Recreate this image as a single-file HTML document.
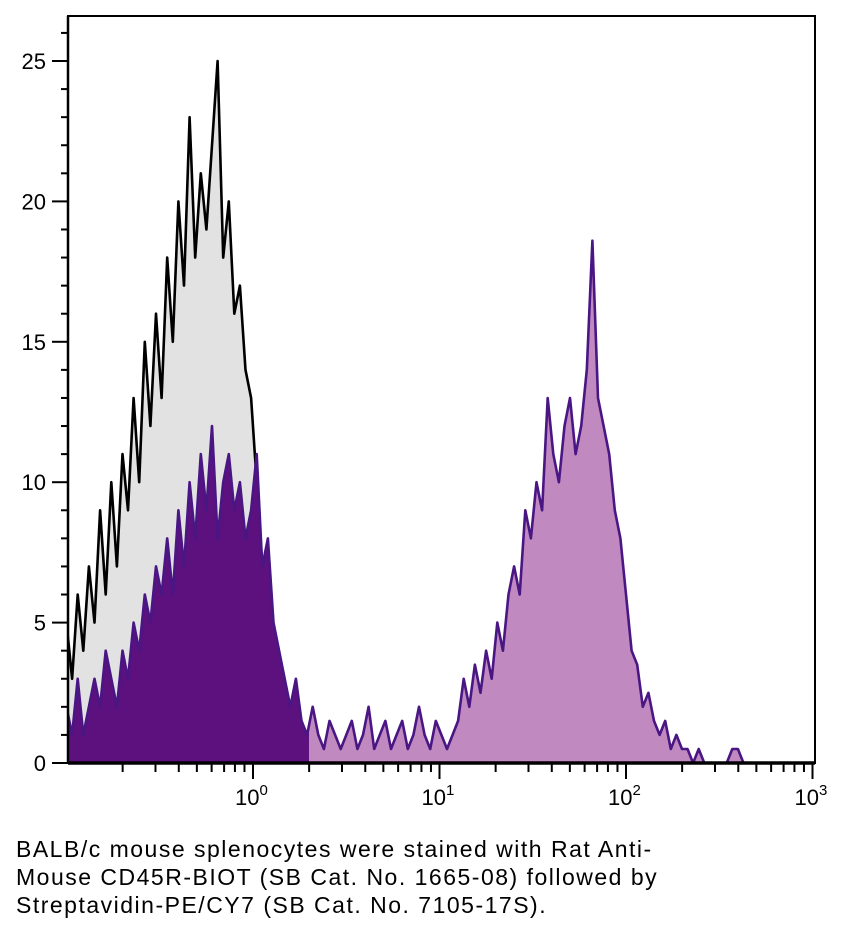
<!DOCTYPE html>
<html><head><meta charset="utf-8"><style>
html,body{margin:0;padding:0;background:#fff;width:848px;height:934px;overflow:hidden}
svg text{font-family:"Liberation Sans",sans-serif}
.cap{position:absolute;left:16px;top:835px;font:23px/28px "Liberation Sans",sans-serif;letter-spacing:1.5px;color:#000}
</style></head><body>
<svg id="chart" width="848" height="934" style="position:absolute;left:0;top:0"></svg>
<div class="cap">BALB/c mouse splenocytes were stained with Rat Anti-<br>Mouse CD45R-BIOT (SB Cat. No. 1665-08) followed by<br>Streptavidin-PE/CY7 (SB Cat. No. 7105-17S).</div>
<script>
const binStart = -1, binStep = 0.03;
const isotypeCounts = [5,3,6,4,7,5,9,6,10,7,11,9,13,10,15,12,16,13,18,15,20,17,23,18,21,19,22,25,18,20,16,17,14,13,10,7,4,1,0];
const stainedCounts = [2,1,3,1,2,3,2,4,3,2, 4,3,5,4,6,5,7,6,8,6, 9,7,10,8,11,9,12,8,10,11, 9,10,8,9,11,7,8,5,4,3,
 2,3,1.5,1,2,1,0.5,1.5,1,0.5, 1,1.5,0.5,1,2,0.5,1,1.5,0.5,1, 1.5,0.5,1,2,1,0.5,1.5,1,0.5,1,
 1.5,3,2,3.5,2.5,4,3,5,4,6, 7,6,9,8,10,9,13,11,10,12, 13,11,12,14,18.6,13,12,11,9,8,
 6,4,3.5,2,2.5,1.5,1,1.5,0.5,1, 0.5,0.5,0,0.5,0,0,0,0,0,0.5, 0.5,0,0,0];
const yTicks = [0,5,10,15,20,25];
const xDecades = [0,1,2,3];

const NS='http://www.w3.org/2000/svg', svg=document.getElementById('chart');
const L=68,R=815,T=16,B=763;
const X=l=>253+(l-0)*186.5;
const Y=v=>B-v*28.08;
function mk(t,a,p){const e=document.createElementNS(NS,t);for(const k in a)e.setAttribute(k,a[k]);(p||svg).appendChild(e);return e;}
function series(arr){return arr.map((v,i)=>[X(binStart+i*binStep),Y(v)]);}
function poly(pts){return pts.map(p=>p[0].toFixed(1)+','+p[1].toFixed(1)).join(' ');}
const clip=mk('clipPath',{id:'pc'});mk('rect',{x:L,y:T,width:R-L,height:B-T},clip);
const g=mk('g',{'clip-path':'url(#pc)'});
const ip=series(isotypeCounts);
const f1=mk('polygon',{points:poly([[ip[0][0],B],...ip,[ip[ip.length-1][0],B]]),fill:'#e2e2e2'},g);

const l1=mk('polyline',{points:poly(ip),fill:'none',stroke:'#000','stroke-width':2.6,'stroke-linejoin':'round'},g);

const sp=series(stainedCounts);
const split=X(0.3);
const cd=mk('clipPath',{id:'cd'});mk('rect',{x:0,y:0,width:split,height:934},cd);
const cl=mk('clipPath',{id:'cl'});mk('rect',{x:split,y:0,width:848,height:934},cl);
const fp=poly([[sp[0][0],B],...sp,[sp[sp.length-1][0],B]]);
const f2=mk('polygon',{points:fp,fill:'#5c117f','clip-path':'url(#cd)'},g);

const f3=mk('polygon',{points:fp,fill:'#c08ac0','clip-path':'url(#cl)'},g);

const l2=mk('polyline',{points:poly(sp),fill:'none',stroke:'#4a1684','stroke-width':2.6,'stroke-linejoin':'round'},g);

const fr=mk('rect',{x:L,y:T,width:R-L,height:B-T,fill:'none',stroke:'#000','stroke-width':2});

mk('line',{x1:L,y1:B,x2:R,y2:B,stroke:'#000','stroke-width':3.5});
mk('line',{x1:L,y1:T,x2:L,y2:B,stroke:'#000','stroke-width':2.5});
for(let v=0;v<=26;v++){const maj=v%5===0;mk('line',{x1:maj?52:61,x2:L,y1:Y(v),y2:Y(v),stroke:'#000','stroke-width':2});}
yTicks.forEach(v=>{const t=mk('text',{x:46,y:Y(v)+8,'text-anchor':'end','font-size':22});t.textContent=v;
});
for(let d=-1;d<3;d++){for(let m=1;m<=10;m++){const l=d+Math.log10(m);if(X(l)<L)continue;const maj=m===10;
mk('line',{x1:X(l),x2:X(l),y1:B,y2:B+(maj?16:9),stroke:'#000','stroke-width':2});}}
xDecades.forEach(d=>{const t=mk('text',{x:X(d)-18,y:805,'font-size':22});t.textContent='10';
const s=mk('tspan',{dy:-10,'font-size':15},t);s.textContent=d;
});
</script>
</body></html>
